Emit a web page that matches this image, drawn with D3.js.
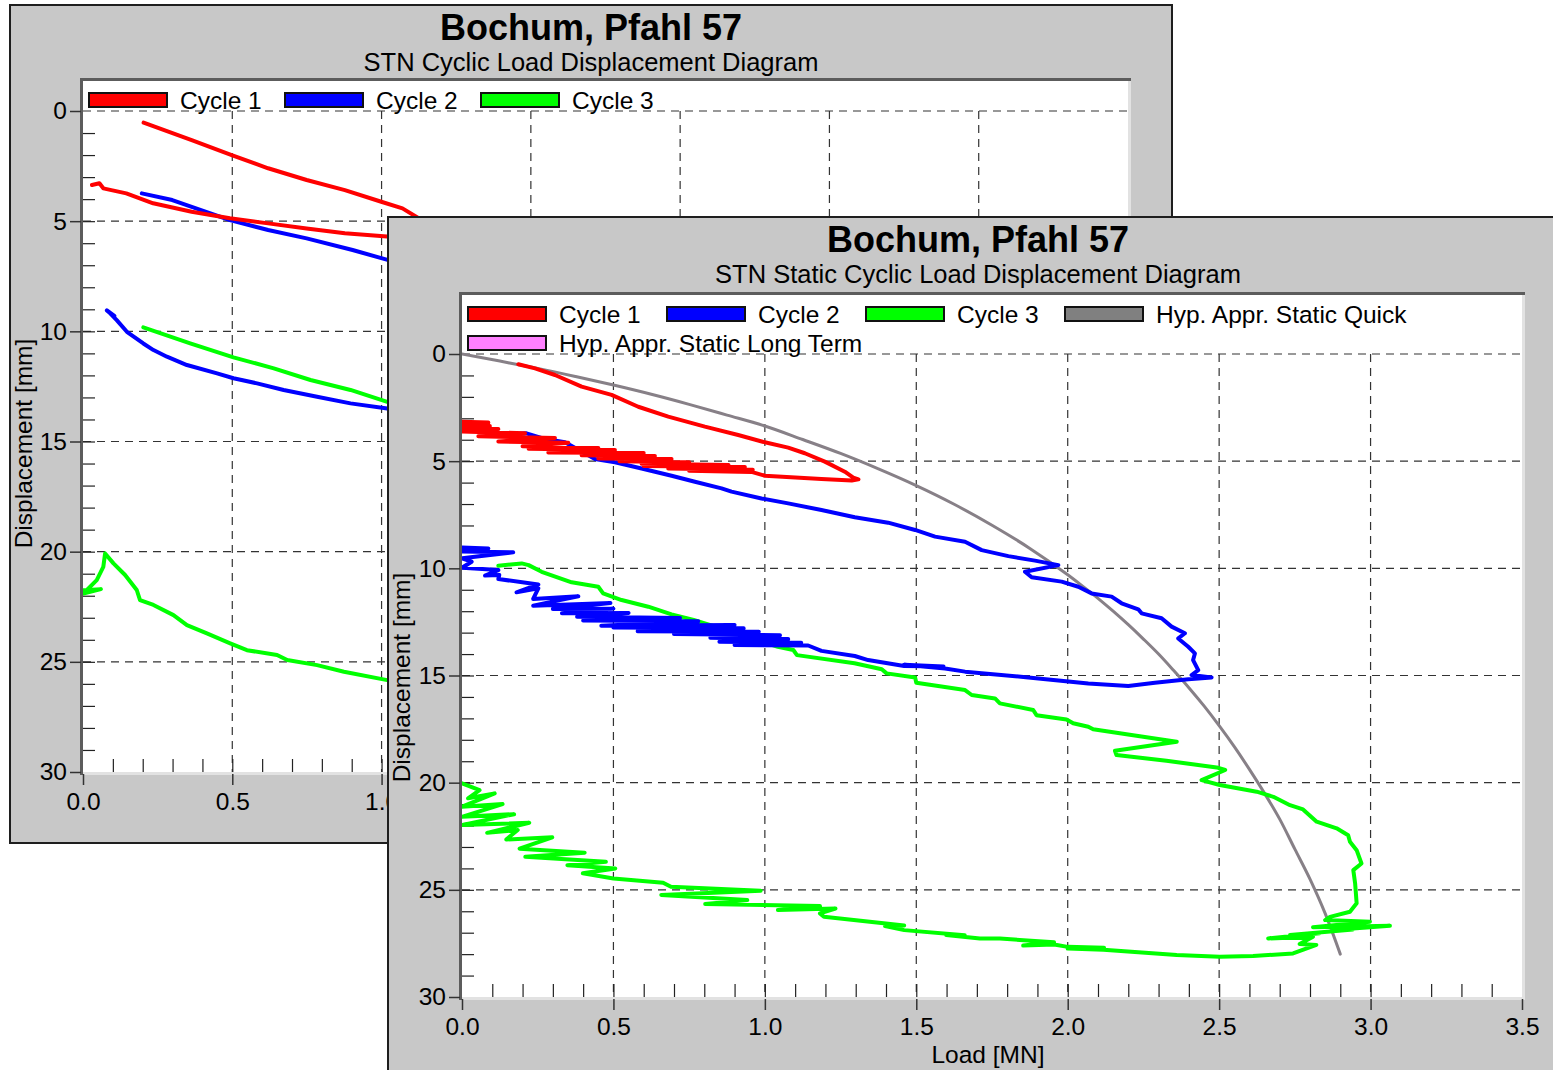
<!DOCTYPE html>
<html>
<head>
<meta charset="utf-8">
<script src="https://cdn.jsdelivr.net/npm/d3@7"></script>
<style>
  body { margin: 0; background: #fff; }
  svg { display: block; font-family: "Liberation Sans", Arial, sans-serif; }
</style>
</head>
<body>
<div id="chart"></div>
<script>
// axis ticks
var xTicks = [0, 0.5, 1.0, 1.5, 2.0, 2.5, 3.0, 3.5];
var yTicks = [0, 5, 10, 15, 20, 25, 30];

// legend names
var cycleNames = ["Cycle 1", "Cycle 2", "Cycle 3"];
var hypNames = ["Hyp. Appr. Static Quick", "Hyp. Appr. Static Long Term"];
var cycleColors = ["#ff0000", "#0000ff", "#00ff00"];
var hypColors = ["#808080", "#ff80ff"];

// back diagram: STN Cyclic Load Displacement Diagram  [load MN, displacement mm]
var cyclicCycle1 = [[0.203,0.53],[0.364,1.32],[0.498,2.0],[0.62,2.6],[0.749,3.13],[0.877,3.59],[0.999,4.12],[1.07,4.42],[1.134,4.95],[1.2,5.25],[1.29,5.8],
  [1.2,5.86],[1.018,5.7],[0.877,5.55],[0.749,5.33],[0.62,5.1],[0.492,4.87],[0.364,4.57],[0.235,4.19],[0.145,3.74],[0.068,3.51],[0.055,3.28],[0.03,3.36]];
var cyclicCycle2 = [[0.197,3.74],[0.299,4.04],[0.492,4.95],[0.62,5.4],[0.749,5.78],[0.903,6.31],[1.02,6.76],[1.3,7.6],[1.6,8.6],[1.95,9.9],[2.1,11.2],[2.3,12.4],[2.42,14.0],[2.47,15.1],
  [2.2,15.45],[1.8,15.0],[1.4,14.5],[1.019,13.5],[0.896,13.27],[0.784,12.97],[0.672,12.66],[0.583,12.36],[0.504,12.13],[0.449,11.91],[0.348,11.53],[0.281,11.15],[0.236,10.85],[0.202,10.55],[0.147,10.02],[0.113,9.49],[0.091,9.18],[0.08,9.05],[0.105,9.3]];
var cyclicCycle3 = [[0.202,9.82],[0.359,10.55],[0.504,11.18],[0.639,11.68],[0.762,12.21],[0.896,12.66],[1.019,13.2],[1.3,14.5],[1.7,15.9],[2.1,17.4],[2.4,19.0],[2.6,20.3],[2.8,21.3],[2.95,23.0],[2.95,25.5],[2.9,26.4],[3.0,26.6],
  [2.7,27.5],[2.4,28.0],[2.0,27.7],[1.6,27.1],[1.3,26.6],[1.019,25.83],[0.874,25.45],[0.784,25.15],[0.684,24.92],[0.65,24.69],[0.549,24.47],[0.493,24.16],[0.415,23.71],[0.348,23.33],[0.303,22.88],[0.236,22.42],[0.191,22.2],
  [0.18,21.74],[0.141,21.06],[0.102,20.53],[0.074,20.08],[0.068,20.69],[0.046,21.29],[0.001,21.9],[0.06,21.7],[0.0,21.75]];

// front diagram: STN Static Cyclic Load Displacement Diagram
var staticCycle1 = [[0.186,0.48],[0.241,0.67],[0.307,0.98],[0.395,1.52],[0.494,1.91],[0.582,2.46],[0.681,2.92],[0.802,3.39],[0.912,3.78],[1.0,4.12],[1.077,4.37],[1.132,4.63],[1.198,5.02],[1.264,5.49],[1.292,5.77],[1.309,5.85],
  [1.287,5.9],[1.187,5.83],[1.0,5.68],[0.956,5.5],[0.75,5.45],[0.96,5.4],[0.681,5.34],[0.934,5.27],[0.6,5.22],[0.88,5.18],[0.593,5.12],[0.75,5.05],[0.52,5.0],[0.692,4.9],[0.45,4.88],[0.637,4.76],[0.395,4.72],[0.6,4.62],[0.285,4.6],[0.505,4.48],[0.22,4.42],[0.45,4.38],[0.2,4.3],[0.351,4.14],[0.12,4.08],[0.307,3.92],[0.054,3.84],[0.208,3.7],[0.0,3.62],[0.12,3.5],[0.0,3.45],[0.092,3.36],[0.0,3.3],[0.087,3.2],[0.0,3.16]];
var staticCycle2 = [[0.131,3.78],[0.213,3.70],[0.27,3.95],[0.34,4.12],[0.439,4.90],[0.505,5.05],[0.593,5.34],[0.692,5.68],[0.769,5.96],[0.857,6.27],[0.89,6.42],[0.989,6.74],[1.077,6.97],[1.187,7.28],[1.297,7.62],[1.407,7.87],[1.496,8.21],[1.562,8.52],[1.661,8.76],[1.716,9.15],[1.804,9.43],[1.892,9.64],[1.969,9.85],
  [1.859,10.16],[1.881,10.42],[1.98,10.62],[2.035,10.86],[2.079,11.17],[2.145,11.32],[2.178,11.63],[2.233,11.91],[2.244,12.1],[2.31,12.33],[2.343,12.72],[2.387,13.03],[2.365,13.27],[2.398,13.66],[2.42,13.97],[2.414,14.28],[2.431,14.75],[2.409,14.98],[2.475,15.09],
  [2.398,15.18],[2.288,15.34],[2.2,15.49],[2.068,15.37],[1.87,15.09],[1.661,14.82],[1.595,14.67],[1.46,14.5],[1.59,14.58],[1.46,14.56],[1.341,14.28],[1.297,14.09],[1.187,13.85],[1.143,13.6],[0.9,13.58],[1.12,13.47],[0.85,13.42],[1.077,13.3],[0.82,13.24],[1.05,13.12],[0.7,13.06],[0.98,12.96],[0.58,12.93],[0.93,12.8],[0.5,12.76],[0.9,12.64],[0.46,12.68],[0.78,12.47],[0.4,12.43],[0.72,12.32],[0.38,12.26],[0.55,12.08],[0.33,12.1],[0.5,11.88],[0.3,11.9],[0.49,11.62],[0.235,11.74],[0.384,11.3],[0.235,11.43],[0.252,10.93],[0.18,11.12],[0.252,10.75],[0.12,10.5],[0.123,10.31],[0.076,10.34],[0.12,10.08],[0.0,9.97],[0.032,9.69],[0.0,9.53],[0.169,9.25],[0.0,9.22],[0.087,9.07],[0.0,9.03]];
var staticCycle3 = [[0.12,9.88],[0.197,9.77],[0.22,9.85],[0.263,10.16],[0.362,10.65],[0.45,10.86],[0.466,11.17],[0.527,11.48],[0.615,11.79],[0.692,12.15],[0.765,12.41],[0.9,13.0],[1.043,13.66],[1.094,13.81],[1.106,14.05],[1.296,14.43],[1.386,14.71],[1.402,14.9],[1.496,15.09],[1.5,15.34],[1.661,15.68],[1.683,15.91],[1.76,16.07],[1.776,16.3],[1.886,16.61],[1.897,16.85],[1.996,17.05],[2.018,17.23],[2.068,17.39],[2.084,17.51],[2.238,17.83],[2.36,18.09],[2.156,18.51],[2.161,18.71],[2.326,18.98],[2.492,19.29],[2.52,19.41],[2.442,19.88],[2.502,20.11],[2.624,20.42],[2.679,20.66],[2.734,21.05],[2.777,21.25],[2.822,21.82],[2.888,22.13],[2.926,22.45],[2.932,22.76],[2.954,23.15],[2.97,23.77],[2.943,24.08],[2.949,24.7],[2.954,25.63],[2.932,26.02],[2.866,26.26],[2.85,26.41],
  [2.998,26.49],[2.81,26.75],[3.064,26.68],[2.876,26.88],[2.942,26.85],[2.734,27.11],[2.832,27.03],[2.662,27.27],[2.81,27.19],[2.766,27.53],[2.821,27.57],[2.744,27.97],[2.612,28.09],[2.502,28.12],[2.36,28.04],[2.118,27.8],[2.0,27.74],[2.12,27.7],[2.0,27.66],[1.955,27.55],[1.853,27.6],[1.955,27.45],[1.776,27.27],[1.71,27.27],[1.599,27.11],[1.66,27.12],[1.46,26.88],[1.397,26.69],[1.46,26.66],[1.195,26.26],[1.182,26.1],[1.233,25.87],[1.043,25.94],[1.182,25.76],[0.803,25.66],[0.942,25.48],[0.658,25.24],[0.986,25.04],[0.69,24.86],[0.664,24.67],[0.5,24.47],[0.399,24.23],[0.506,24.0],[0.348,23.85],[0.475,23.69],[0.209,23.46],[0.405,23.27],[0.19,23.08],[0.298,22.55],[0.146,22.65],[0.184,22.21],[0.083,22.34],[0.222,21.87],[0.0,21.98],[0.172,21.47],[0.0,21.59],[0.134,21.0],[0.0,21.12],[0.108,20.5],[0.02,20.73],[0.058,20.35],[0.0,20.03]];
var staticQuick = [[0,0],[0.125,0.33],[0.25,0.67],[0.375,1.05],[0.5,1.45],[0.625,1.88],[0.75,2.35],[0.875,2.85],[1.0,3.36],[1.125,3.99],[1.25,4.64],[1.375,5.36],[1.5,6.14],[1.625,7.01],[1.75,7.99],[1.875,9.07],[2.0,10.3],[2.05,10.84],[2.1,11.4],[2.15,12.0],[2.2,12.63],[2.25,13.3],[2.3,14.0],[2.35,14.77],[2.4,15.57],[2.45,16.42],[2.5,17.34],[2.55,18.32],[2.6,19.38],[2.65,20.5],[2.7,21.7],[2.75,23.1],[2.8,24.5],[2.85,26.1],[2.9,28.0]];
var staticLongTerm = [];

var svg = d3.select("#chart").append("svg")
    .attr("width", 1553)
    .attr("height", 1070);

function drawWindow(win) {
    var g = svg.append("g").attr("transform", "translate(" + win.x + "," + win.y + ")");
    var p = win.plot;

    // window panel
    g.append("rect")
        .attr("x", 0).attr("y", 0)
        .attr("width", win.w).attr("height", win.h)
        .attr("fill", "#c8c8c8")
        .attr("stroke", "#1e1e1e")
        .attr("stroke-width", 2);

    g.append("text")
        .attr("x", win.w / 2).attr("y", 35)
        .attr("text-anchor", "middle")
        .attr("font-size", "36px").attr("font-weight", "bold")
        .text(win.title);
    g.append("text")
        .attr("x", win.w / 2).attr("y", 65.5)
        .attr("text-anchor", "middle")
        .attr("font-size", "25.5px")
        .text(win.subtitle);

    var x = d3.scaleLinear().domain([0, 3.5]).range([p.left, p.right]);
    var y = d3.scaleLinear().domain([0, 30]).range([p.zero, p.bottom]);

    // plot area + 3d frame
    g.append("rect")
        .attr("x", p.left).attr("y", p.top)
        .attr("width", p.right - p.left).attr("height", p.bottom - p.top)
        .attr("fill", "#fff");
    g.append("line").attr("x1", p.left).attr("x2", p.right + 3).attr("y1", p.bottom + 1.5).attr("y2", p.bottom + 1.5)
        .attr("stroke", "#e2e2e2").attr("stroke-width", 3);
    g.append("line").attr("x1", p.right + 1.5).attr("x2", p.right + 1.5).attr("y1", p.top).attr("y2", p.bottom + 3)
        .attr("stroke", "#e2e2e2").attr("stroke-width", 3);
    g.append("line").attr("x1", p.left - 3).attr("x2", p.right + 3).attr("y1", p.top - 1.5).attr("y2", p.top - 1.5)
        .attr("stroke", "#5c5c5c").attr("stroke-width", 3);
    g.append("line").attr("x1", p.left - 1.5).attr("x2", p.left - 1.5).attr("y1", p.top - 3).attr("y2", p.bottom + 3)
        .attr("stroke", "#5c5c5c").attr("stroke-width", 3);

    // dashed grid
    g.selectAll(".vgrid").data(xTicks.filter(function(d) { return d > 0 && d < 3.5; }))
        .enter().append("line")
        .attr("x1", function(d) { return x(d); }).attr("x2", function(d) { return x(d); })
        .attr("y1", y(0)).attr("y2", y(30))
        .attr("stroke", "#333").attr("stroke-width", 1.2).attr("stroke-dasharray", "8,6");
    g.selectAll(".hgrid").data(yTicks.filter(function(d) { return d < 30; }))
        .enter().append("line")
        .attr("x1", x(0)).attr("x2", x(3.5))
        .attr("y1", function(d) { return y(d); }).attr("y2", function(d) { return y(d); })
        .attr("stroke", "#333").attr("stroke-width", 1.2).attr("stroke-dasharray", "8,6");

    // minor ticks inside the plot
    var minorY = g.append("g").attr("transform", "translate(" + p.left + ",0)")
        .call(d3.axisLeft(y).tickValues(d3.range(1, 30)).tickSize(-12).tickSizeOuter(0).tickFormat(""));
    var minorX = g.append("g").attr("transform", "translate(0," + p.bottom + ")")
        .call(d3.axisBottom(x).tickValues(d3.range(1, 35).map(function(i) { return i / 10; })).tickSize(-13).tickSizeOuter(0).tickFormat(""));
    [minorY, minorX].forEach(function(a) {
        a.select(".domain").remove();
        a.selectAll("line").attr("stroke", "#222").attr("stroke-width", 1.2);
    });

    // major ticks + labels outside
    var yAxis = g.append("g").attr("transform", "translate(" + (p.left - 2) + ",0)")
        .call(d3.axisLeft(y).tickValues(yTicks).tickSize(11).tickSizeOuter(0).tickPadding(3));
    var xAxis = g.append("g").attr("transform", "translate(0," + (p.bottom + 2) + ")")
        .call(d3.axisBottom(x).tickValues(xTicks).tickSize(11).tickSizeOuter(0).tickPadding(8).tickFormat(d3.format(".1f")));
    [yAxis, xAxis].forEach(function(a) {
        a.select(".domain").remove();
        a.selectAll("line").attr("stroke", "#333").attr("stroke-width", 1.5);
        a.selectAll("text").attr("font-size", "24.5px").attr("fill", "#000")
            .attr("font-family", "'Liberation Sans', Arial, sans-serif");
    });

    // axis titles
    g.append("text")
        .attr("transform", "translate(" + 22 + "," + ((p.zero + p.bottom) / 2 + 2) + ") rotate(-90)")
        .attr("text-anchor", "middle")
        .attr("font-size", "24.5px")
        .text("Displacement [mm]");
    g.append("text")
        .attr("x", (p.left + p.right) / 2 - 4).attr("y", p.bottom + 66)
        .attr("text-anchor", "middle")
        .attr("font-size", "24.5px")
        .text("Load [MN]");

    // curves (last series first, so Cycle 1 ends up on top)
    var clipId = "clip" + win.id;
    g.append("clipPath").attr("id", clipId).append("rect")
        .attr("x", p.left).attr("y", p.top)
        .attr("width", p.right - p.left).attr("height", p.bottom - p.top);

    var line = d3.line()
        .x(function(d) { return x(d[0]); })
        .y(function(d) { return y(d[1]); });

    win.series.slice().reverse().forEach(function(s) {
        g.append("path")
            .datum(s.values)
            .attr("clip-path", "url(#" + clipId + ")")
            .attr("fill", "none")
            .attr("stroke", s.color)
            .attr("stroke-width", s.width)
            .attr("stroke-linejoin", "round")
            .attr("stroke-linecap", "round")
            .attr("d", s.smooth ? line.curve(d3.curveMonotoneX)(s.values) : line.curve(d3.curveLinear)(s.values));
    });

    // legend
    var leg = g.selectAll(".legend").data(win.legend).enter().append("g")
        .attr("transform", function(d, i) {
            var col = i % 4, row = Math.floor(i / 4);
            return "translate(" + (p.left + 6 + col * win.legendStep) + "," + (p.top + 19 + row * 29) + ")";
        });
    leg.append("rect")
        .attr("x", 0).attr("y", -7)
        .attr("width", 78).attr("height", 14)
        .attr("fill", function(d) { return d.color; })
        .attr("stroke", "#111").attr("stroke-width", 2);
    leg.append("text")
        .attr("x", 91).attr("y", 8.5)
        .attr("font-size", "24.5px")
        .text(function(d) { return d.name; });
}

// back window
drawWindow({
    id: "back", x: 10, y: 5, w: 1162, h: 838,
    plot: { left: 73, right: 1118, top: 76, zero: 106, bottom: 767 },
    title: "Bochum, Pfahl 57",
    subtitle: "STN Cyclic Load Displacement Diagram",
    legendStep: 196,
    legend: cycleNames.map(function(n, i) { return { name: n, color: cycleColors[i] }; }),
    series: [
        { values: cyclicCycle1, color: cycleColors[0], width: 4 },
        { values: cyclicCycle2, color: cycleColors[1], width: 4 },
        { values: cyclicCycle3, color: cycleColors[2], width: 4 }
    ]
});

// front window
drawWindow({
    id: "front", x: 388, y: 217, w: 1180, h: 858,
    plot: { left: 74, right: 1134, top: 78, zero: 137, bottom: 780 },
    title: "Bochum, Pfahl 57",
    subtitle: "STN Static Cyclic Load Displacement Diagram",
    legendStep: 199,
    legend: cycleNames.map(function(n, i) { return { name: n, color: cycleColors[i] }; })
        .concat(hypNames.map(function(n, i) { return { name: n, color: hypColors[i] }; })),
    series: [
        { values: staticCycle1, color: cycleColors[0], width: 4 },
        { values: staticCycle2, color: cycleColors[1], width: 4 },
        { values: staticCycle3, color: cycleColors[2], width: 4 },
        { values: staticQuick, color: "#878087", width: 3, smooth: true },
        { values: staticLongTerm, color: hypColors[1], width: 3, smooth: true }
    ]
});
</script>
</body>
</html>
